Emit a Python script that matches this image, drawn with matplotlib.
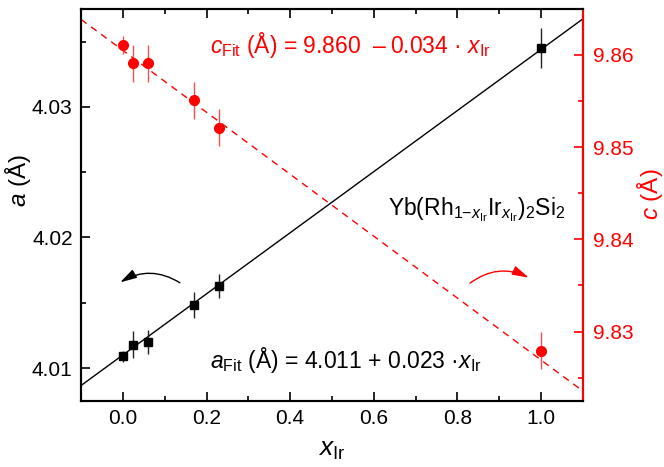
import numpy as np
import matplotlib
matplotlib.use('Agg')
import matplotlib.pyplot as plt

plt.rcParams['font.family'] = ['Liberation Sans', 'DejaVu Sans']
plt.rcParams['mathtext.fontset'] = 'custom'
plt.rcParams['mathtext.rm'] = 'Liberation Sans'
plt.rcParams['mathtext.it'] = 'Liberation Sans:italic'
plt.rcParams['mathtext.bf'] = 'Liberation Sans:bold'

# data
x_ir = [0.0, 0.025, 0.06, 0.17, 0.23, 1.0]
a_vals = [4.0109, 4.0118, 4.0120, 4.0148, 4.0163, 4.0345]
a_err = [0.0004, 0.0010, 0.0009, 0.0010, 0.0009, 0.0015]
c_vals = [9.8611, 9.8591, 9.8591, 9.8551, 9.8521, 9.8279]
c_err = [0.0010, 0.0020, 0.0020, 0.0020, 0.0020, 0.0020]
x_err = [0.008, 0.008, 0.008, 0.008, 0.008, 0.008]

# linear fits: intercept, slope
a_fit = [4.0110, 0.0234]
c_fit = [9.8605, -0.0336]

xlim = (-0.1, 1.1)
a_lim = (4.0075, 4.0375)
c_lim = (9.8225, 9.865)

fig = plt.figure(figsize=(6.64, 4.67), dpi=100)
ax = fig.add_axes([0.122, 0.142, 0.756, 0.839])
ax2 = ax.twinx()

xx = np.array(xlim)
ax.plot(xx, a_fit[0] + a_fit[1]*xx, color='black', lw=1.0, zorder=2)
ax2.plot(xx, c_fit[0] + c_fit[1]*xx, color='red', lw=1.0, ls=(0, (5, 4)), zorder=2)

ax.errorbar(x_ir, a_vals, yerr=a_err, xerr=x_err, fmt='s', color='black',
            ecolor='#222222', elinewidth=1.0, capsize=0, markersize=6, zorder=3)
ax2.errorbar(x_ir, c_vals, yerr=c_err, xerr=x_err, fmt='o', color='red',
             ecolor='#f05050', elinewidth=1.0, capsize=0, markersize=7, zorder=3)

ax.set_xlim(xlim)
ax.set_ylim(a_lim)
ax2.set_ylim(c_lim)

ax.set_xticks(np.arange(0, 1.01, 0.2))
ax.set_xticks(np.arange(-0.1, 1.11, 0.1), minor=True)
ax.set_yticks([4.01, 4.02, 4.03])
ax.set_yticks([4.015, 4.025, 4.035], minor=True)
ax2.set_yticks([9.83, 9.84, 9.85, 9.86])
ax2.set_yticks([9.825, 9.835, 9.845, 9.855, 9.865], minor=True)
ax.xaxis.set_major_formatter(plt.FormatStrFormatter('%.1f'))
ax.yaxis.set_major_formatter(plt.FormatStrFormatter('%.2f'))
ax2.yaxis.set_major_formatter(plt.FormatStrFormatter('%.2f'))

ax.tick_params(axis='both', which='both', direction='in', labelsize=15, width=1.2)
ax.tick_params(axis='x', which='both', top=True, pad=6)
ax.tick_params(axis='y', which='both', right=False, pad=6)
ax.tick_params(which='major', length=6.5)
ax.tick_params(which='minor', length=3.3)
ax2.tick_params(axis='y', which='both', direction='in', colors='red', labelsize=15,
                width=1.2, pad=7.5)
ax2.tick_params(which='major', length=6.5)
ax2.tick_params(which='minor', length=3.3)

for s in ax.spines.values():
    s.set_linewidth(1.5)
for s in ax2.spines.values():
    s.set_linewidth(1.5)
ax2.spines['right'].set_color('red')

ax.set_xlabel(r'$x_{\mathrm{Ir}}$', fontsize=19)
ax.set_ylabel(r'$a$ (Å)', fontsize=17.5)
ax2.set_ylabel(r'$c$ (Å)', fontsize=17.5, color='red')
ax.xaxis.set_label_coords(0.5, -0.126)
ax.yaxis.set_label_coords(-0.125, 0.561)
ax2.yaxis.set_label_coords(1.133, 0.528)
ax.xaxis.label.set_verticalalignment('center')
ax.yaxis.label.set_verticalalignment('center')
ax2.yaxis.label.set_verticalalignment('center')

ax.text(0.257, 0.887,
        r'$c_{\mathrm{Fit}}$ (Å) = 9.860  –' + '\u2009' + r'0.034 · $x_{\mathrm{Ir}}$',
        transform=ax.transAxes, fontsize=16.5, color='red', va='baseline')
ax.text(0.257, 0.083, r'$a_{\mathrm{Fit}}$ (Å) = 4.011 + 0.023 ·$x_{\mathrm{Ir}}$',
        transform=ax.transAxes, fontsize=16.5, color='black', va='baseline')
ax.text(0.612, 0.474,
        r'Yb(Rh$_{1\mathrm{-}x_{\mathrm{Ir}}}$Ir$_{x_{\mathrm{Ir}}}$)$_2$Si$_2$',
        transform=ax.transAxes, fontsize=16.5, color='black', va='baseline')

# curved arrows pointing to the axes
head = '-|>,head_length=0.5,head_width=0.14'
ax.annotate('', xy=(0.078, 0.302), xytext=(0.197, 0.301), xycoords='axes fraction',
            arrowprops=dict(arrowstyle=head, color='black', lw=1.0,
                            connectionstyle='arc3,rad=0.3', mutation_scale=20,
                            shrinkA=0, shrinkB=0))
ax.annotate('', xy=(0.892, 0.314), xytext=(0.775, 0.300), xycoords='axes fraction',
            arrowprops=dict(arrowstyle=head, color='red', lw=1.0,
                            connectionstyle='arc3,rad=-0.3', mutation_scale=20,
                            shrinkA=0, shrinkB=0))

fig.savefig('out.png', dpi=100)
